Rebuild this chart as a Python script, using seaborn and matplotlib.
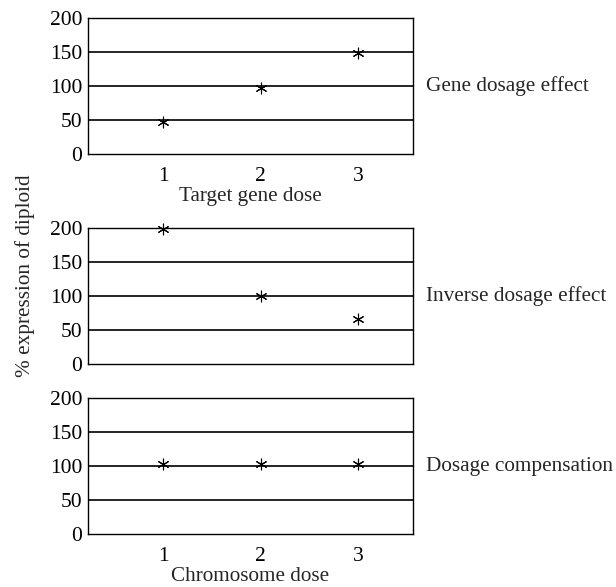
import pandas as pd
import matplotlib
matplotlib.use("Agg")
import matplotlib.pyplot as plt
import seaborn as sns

sns.set_style("white")
plt.rcParams["font.family"] = ["Liberation Serif", "DejaVu Serif"]

# datos
dose = [1, 2, 3]
gene_dosage = [47, 97, 149]
inverse_dosage = [199, 100, 67]
compensation = [103, 103, 103]
panel_names = ["Gene dosage effect", "Inverse dosage effect", "Dosage compensation"]
yticks = [0, 50, 100, 150, 200]

df = pd.DataFrame({
    "dose": dose * 3,
    "expr": gene_dosage + inverse_dosage + compensation,
    "panel": [panel_names[0]] * 3 + [panel_names[1]] * 3 + [panel_names[2]] * 3,
})

fig = plt.figure(figsize=(6.16, 5.87), dpi=100)
bottoms = [0.7376, 0.3794, 0.0898]
xlabels = ["Target gene dose", None, "Chromosome dose"]

for i, name in enumerate(panel_names):
    ax = fig.add_axes([0.1429, bottoms[i], 0.5276, 0.232])
    for y in [50, 100, 150]:
        ax.axhline(y, color="black", lw=1.2, zorder=1)
    sns.scatterplot(data=df[df["panel"] == name], x="dose", y="expr", ax=ax,
                    marker=(6, 2, 0), s=60, color="black", linewidth=0.8,
                    edgecolor="black", zorder=3, clip_on=False)
    ax.set_xlim(0.23, 3.56)
    ax.set_ylim(0, 200)
    ax.set_yticks(yticks)
    ax.set_xticks(dose)
    ax.tick_params(axis="y", length=0, pad=4, labelsize=15.5, colors="black")
    ax.tick_params(axis="x", length=0, pad=9, labelsize=15.5, colors="black")
    for s in ax.spines.values():
        s.set_color("black")
        s.set_linewidth(1.0)
    if xlabels[i]:
        ax.set_xlabel(xlabels[i], fontsize=15.2, labelpad=1)
    else:
        ax.set_xticklabels([])
        ax.set_xlabel("")
    ax.set_ylabel("")
    ax.text(1.04, 100, name, transform=ax.get_yaxis_transform(),
            va="center", ha="left", fontsize=15.3)

fig.text(0.04, 0.531, "% expression of diploid", rotation=90,
         va="center", ha="center", fontsize=15.3)

fig.savefig("out.png", dpi=100)
